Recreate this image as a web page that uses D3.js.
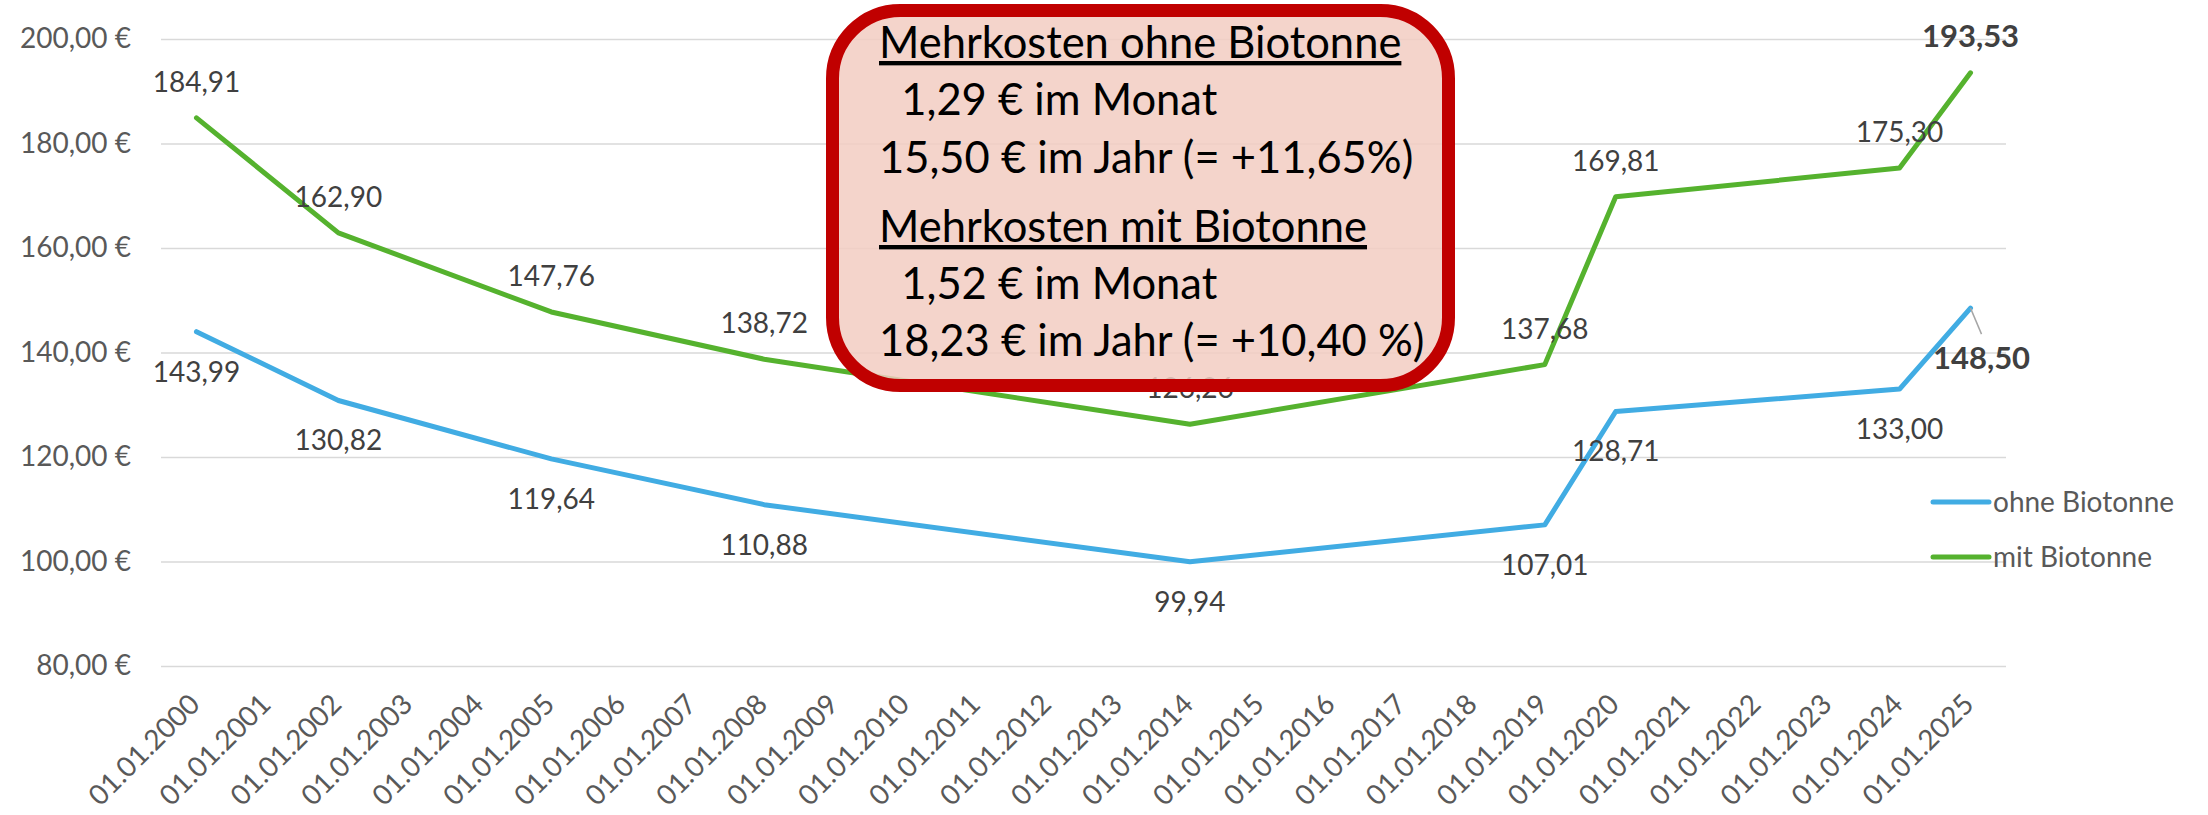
<!DOCTYPE html>
<html>
<head>
<meta charset="utf-8">
<script src="https://cdn.jsdelivr.net/npm/d3@7"></script>
<style>
  body { margin: 0; background: #fff; }
  svg { display: block; font-family: Lato, "Noto Sans", sans-serif; }
</style>
</head>
<body>
<div id="chart"></div>
<script>
// chart data
const tickLabels = ["01.01.2000","01.01.2001","01.01.2002","01.01.2003","01.01.2004","01.01.2005",
  "01.01.2006","01.01.2007","01.01.2008","01.01.2009","01.01.2010","01.01.2011","01.01.2012",
  "01.01.2013","01.01.2014","01.01.2015","01.01.2016","01.01.2017","01.01.2018","01.01.2019",
  "01.01.2020","01.01.2021","01.01.2022","01.01.2023","01.01.2024","01.01.2025"];
const dates = ["01.01.2000","01.01.2002","01.01.2005","01.01.2008","01.01.2014","01.01.2019","01.01.2020","01.01.2024","01.01.2025"];
const ohneBiotonne = [143.99, 130.82, 119.64, 110.88, 99.94, 107.01, 128.71, 133.00, 148.50];
const mitBiotonne = [184.91, 162.90, 147.76, 138.72, 126.26, 137.68, 169.81, 175.30, 193.53];
const yTicks = [80, 100, 120, 140, 160, 180, 200];
const seriesNames = ["ohne Biotonne", "mit Biotonne"];
const boxLines = [
  {text: "Mehrkosten ohne Biotonne", underline: true},
  {text: "\u00a0\u00a01,29 € im Monat", underline: false},
  {text: "15,50 € im Jahr (= +11,65%)", underline: false},
  {text: "Mehrkosten mit Biotonne", underline: true},
  {text: "\u00a0\u00a01,52 € im Monat", underline: false},
  {text: "18,23 € im Jahr (= +10,40 %)", underline: false}
];

const W = 2208, H = 815;
const plot = {left: 161, right: 2006, top: 39, bottom: 666};
const colors = {ohne: "#41ace3", mit: "#55b22e"};

const de = d3.formatLocale({decimal: ",", thousands: ".", grouping: [3], currency: ["", " €"]});
const fmt = de.format(",.2f");

const svg = d3.select("#chart").append("svg")
  .attr("width", W)
  .attr("height", H)
  .attr("viewBox", [0, 0, W, H].join(" "));

const x = d3.scaleBand().domain(tickLabels).range([plot.left, plot.right]);
const xc = d => x(d) + x.bandwidth() / 2;
const y = d3.scaleLinear().domain([80, 200]).range([plot.bottom, plot.top]);

// gridlines + y labels
const yAxis = svg.append("g")
  .attr("transform", `translate(${plot.left},0)`)
  .call(d3.axisLeft(y).tickValues(yTicks).tickSize(-(plot.right - plot.left)).tickPadding(30)
    .tickFormat(d => fmt(d) + " €"));
yAxis.select(".domain").remove();
yAxis.selectAll(".tick line").attr("stroke", "#d9d9d9").attr("stroke-width", 1.5);
yAxis.selectAll(".tick text").attr("fill", "#595959").style("font-size", "28px")
  .style("font-family", "Lato, sans-serif");

// x labels (rotated)
const xAxis = svg.append("g")
  .attr("transform", `translate(0,${plot.bottom})`)
  .call(d3.axisBottom(x).tickSize(0).tickFormat(d => d));
xAxis.select(".domain").remove();
xAxis.selectAll(".tick text")
  .attr("fill", "#595959")
  .style("font-size", "28px")
  .style("font-family", "Lato, sans-serif")
  .attr("text-anchor", "end")
  .attr("y", 0)
  .attr("dy", "0.35em")
  .attr("transform", "translate(-2,33) rotate(-45)");

const ohneData = dates.map((d, i) => ({date: d, value: ohneBiotonne[i]}));
const mitData = dates.map((d, i) => ({date: d, value: mitBiotonne[i]}));

const line = d3.line().x(d => xc(d.date)).y(d => y(d.value));

svg.append("path").datum(ohneData)
  .attr("fill", "none").attr("stroke", colors.ohne).attr("stroke-width", 5)
  .attr("stroke-linecap", "round").attr("stroke-linejoin", "round")
  .attr("d", line);
svg.append("path").datum(mitData)
  .attr("fill", "none").attr("stroke", colors.mit).attr("stroke-width", 5)
  .attr("stroke-linecap", "round").attr("stroke-linejoin", "round")
  .attr("d", line);

// data labels
const last = dates.length - 1;
svg.append("g").selectAll("text")
  .data(mitData)
  .join("text")
  .attr("x", d => xc(d.date))
  .attr("y", d => y(d.value) - 26)
  .attr("text-anchor", "middle")
  .attr("fill", "#404040")
  .style("font-size", (d, i) => i === last ? "31px" : "28px")
  .style("font-weight", (d, i) => i === last ? "bold" : "normal")
  .text(d => fmt(d.value));

svg.append("g").selectAll("text")
  .data(ohneData.slice(0, last))
  .join("text")
  .attr("x", d => xc(d.date))
  .attr("y", d => y(d.value) + 50)
  .attr("text-anchor", "middle")
  .attr("fill", "#404040")
  .style("font-size", "28px")
  .text(d => fmt(d.value));

// last "ohne" label sits lower right with a leader line
const lastOhne = ohneData[last];
svg.append("line")
  .attr("x1", xc(lastOhne.date)).attr("y1", y(lastOhne.value))
  .attr("x2", xc(lastOhne.date) + 11).attr("y2", y(lastOhne.value) + 26)
  .attr("stroke", "#a6a6a6").attr("stroke-width", 1.5);
svg.append("text")
  .attr("x", xc(lastOhne.date) + 11)
  .attr("y", y(lastOhne.value) + 61)
  .attr("text-anchor", "middle")
  .attr("fill", "#404040")
  .style("font-size", "31px")
  .style("font-weight", "bold")
  .text(fmt(lastOhne.value));

// legend
const legend = svg.append("g").attr("transform", "translate(1933,502)");
seriesNames.forEach((name, i) => {
  const g = legend.append("g").attr("transform", `translate(0,${i * 55})`);
  g.append("line").attr("x1", 0).attr("x2", 56)
    .attr("stroke", i === 0 ? colors.ohne : colors.mit)
    .attr("stroke-width", 5).attr("stroke-linecap", "round");
  g.append("text").attr("x", 60).attr("dy", "0.35em")
    .attr("fill", "#595959").style("font-size", "28px").text(name);
});

// annotation box
svg.append("rect")
  .attr("x", 832.5).attr("y", 10.5)
  .attr("width", 616).attr("height", 375)
  .attr("rx", 68).attr("ry", 68)
  .attr("fill", "rgb(242,204,194)").attr("fill-opacity", 0.85)
  .attr("stroke", "#c00000").attr("stroke-width", 13);

const boxBaselines = [58, 115, 173, 242, 299, 356];
const boxText = svg.append("g");
boxLines.forEach((l, i) => {
  boxText.append("text")
    .attr("x", 879)
    .attr("y", boxBaselines[i])
    .attr("fill", "#000")
    .style("font-size", "43.5px")
    .style("text-decoration", l.underline ? "underline" : null)
    .text(l.text);
});
</script>
</body>
</html>
